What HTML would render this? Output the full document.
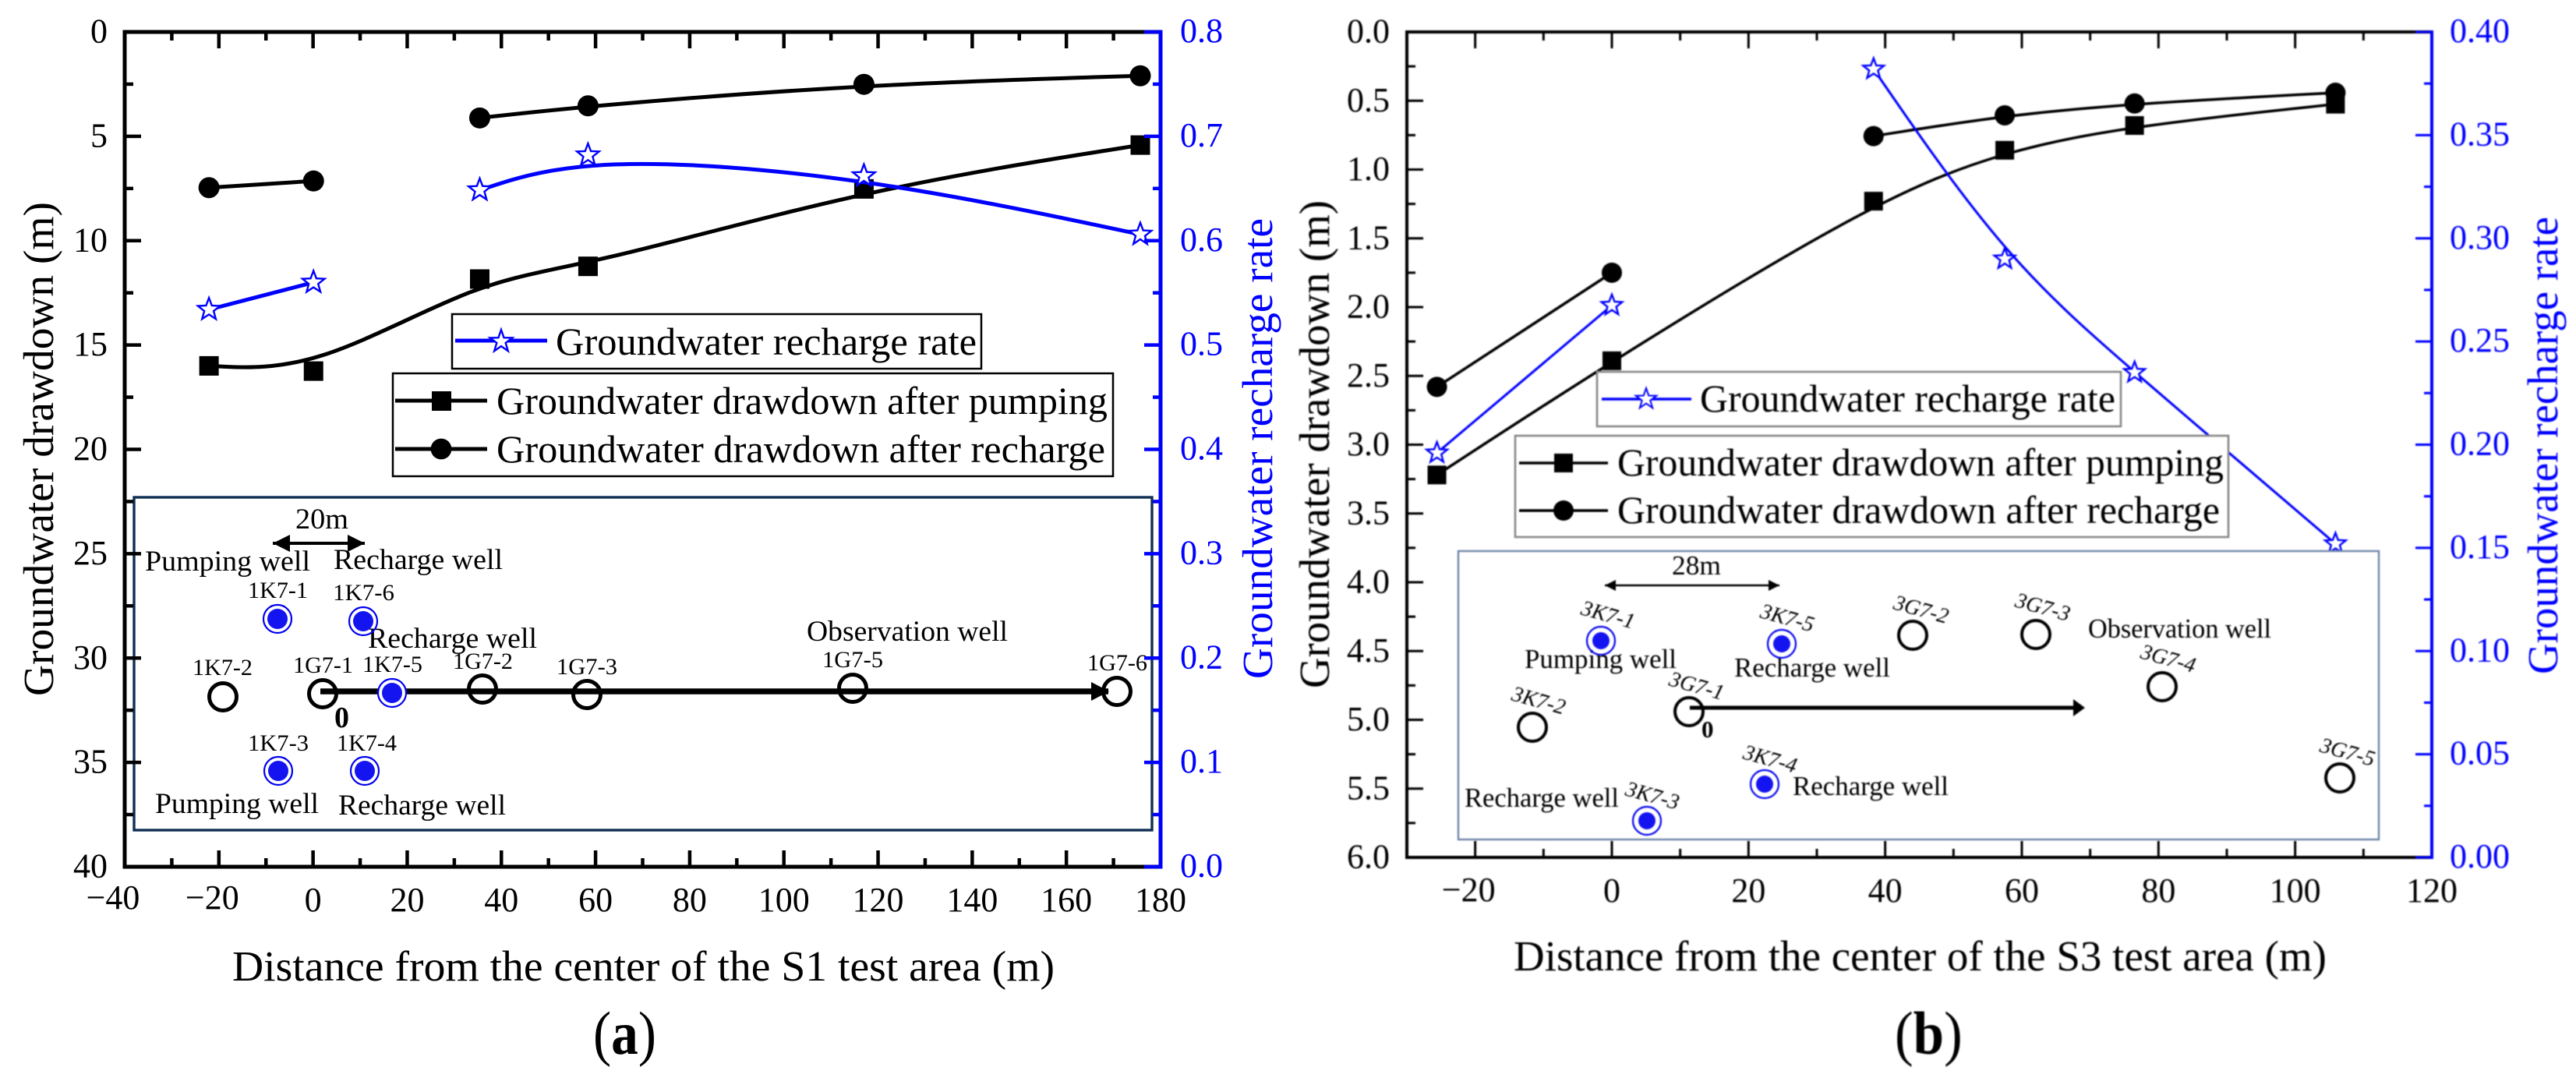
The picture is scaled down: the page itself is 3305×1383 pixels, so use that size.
<!DOCTYPE html>
<html lang="en">
<head>
<meta charset="utf-8">
<title>Groundwater drawdown and recharge rate</title>
<style>
html,body{margin:0;padding:0;background:#fff;width:3305px;height:1383px;overflow:hidden}
svg{display:block}
text{font-family:"Liberation Serif","DejaVu Serif",serif;fill:#000}
.blue{fill:#0000ff}
.lg{font-size:50px}
.ia{font-size:37.5px}
.ic{font-size:30px}
.ib{font-size:34.5px}
.ir{font-size:28px;font-style:italic}
.ttl{font-size:55.5px}
.well-b{fill:none;stroke:#0000f0;stroke-width:2.2}
.well-f{fill:#1414f0}
.obs{fill:none;stroke:#000;stroke-width:5}
.obsb{fill:none;stroke:#000;stroke-width:4}
</style>
</head>
<body>
<svg xmlns="http://www.w3.org/2000/svg" width="3305" height="1383" viewBox="0 0 3305 1383">
<defs>
<marker id="ah" markerUnits="userSpaceOnUse" markerWidth="24" markerHeight="26" refX="22" refY="13" orient="auto-start-reverse"><path d="M0 2 L22 13 L0 24 Z" fill="#000"/></marker>
</defs>
<rect x="0" y="0" width="3305" height="1383" fill="#fff"/>

<!-- PANEL A -->
<g id="panel-a">
<g id="a-series"></g>

<g>
<rect x="580" y="403" width="679" height="70" fill="#fff" stroke="#000" stroke-width="2.5"/>
<line x1="584" y1="437" x2="702" y2="437" stroke="#0000ff" stroke-width="5"/>
<polygon fill="#fff" stroke="#0000ff" stroke-width="2.4" points="643,423 646.5,433.2 657.3,433.4 648.7,439.9 651.8,450.3 643,444.1 634.2,450.3 637.3,439.9 628.7,433.4 639.5,433.2"/>
<text class="lg" x="713" y="455" textLength="540" lengthAdjust="spacingAndGlyphs">Groundwater recharge rate</text>
</g>
<g>
<rect x="504" y="479" width="924" height="132" fill="#fff" stroke="#000" stroke-width="2.5"/>
<line x1="507" y1="514" x2="625" y2="514" stroke="#000" stroke-width="5"/>
<rect x="554" y="502" width="25" height="25" fill="#000"/>
<text class="lg" x="637" y="531" textLength="784" lengthAdjust="spacingAndGlyphs">Groundwater drawdown after pumping</text>
<line x1="507" y1="576" x2="625" y2="576" stroke="#000" stroke-width="5"/>
<circle cx="566" cy="576" r="13.4" fill="#000"/>
<text class="lg" x="637" y="593" textLength="781" lengthAdjust="spacingAndGlyphs">Groundwater drawdown after recharge</text>
</g>

<g>
<rect x="172" y="638" width="1306" height="427" fill="#fff" stroke="#0f2f52" stroke-width="3.4"/>
<text class="ia" x="379" y="678" textLength="68" lengthAdjust="spacingAndGlyphs">20m</text>
<line x1="350" y1="697" x2="468" y2="697" stroke="#000" stroke-width="4" marker-start="url(#ah)" marker-end="url(#ah)"/>
<text class="ia" x="186" y="732" textLength="212" lengthAdjust="spacingAndGlyphs">Pumping well</text>
<text class="ia" x="428" y="730" textLength="217" lengthAdjust="spacingAndGlyphs">Recharge well</text>
<text class="ic" x="318" y="767" textLength="77" lengthAdjust="spacingAndGlyphs">1K7-1</text>
<text class="ic" x="427" y="770" textLength="79" lengthAdjust="spacingAndGlyphs">1K7-6</text>
<text class="ia" x="472" y="831" textLength="217" lengthAdjust="spacingAndGlyphs">Recharge well</text>
<text class="ic" x="247" y="866" textLength="77" lengthAdjust="spacingAndGlyphs">1K7-2</text>
<text class="ic" x="376" y="863" textLength="77" lengthAdjust="spacingAndGlyphs">1G7-1</text>
<text class="ic" x="465" y="862" textLength="77" lengthAdjust="spacingAndGlyphs">1K7-5</text>
<text class="ic" x="581" y="858" textLength="77" lengthAdjust="spacingAndGlyphs">1G7-2</text>
<text class="ic" x="714" y="865" textLength="78" lengthAdjust="spacingAndGlyphs">1G7-3</text>
<text class="ia" x="1035" y="822" textLength="258" lengthAdjust="spacingAndGlyphs">Observation well</text>
<text class="ic" x="1055" y="856" textLength="78" lengthAdjust="spacingAndGlyphs">1G7-5</text>
<text class="ic" x="1395" y="860" textLength="77" lengthAdjust="spacingAndGlyphs">1G7-6</text>
<text class="ic" x="318" y="963" textLength="78" lengthAdjust="spacingAndGlyphs">1K7-3</text>
<text class="ic" x="432" y="963" textLength="77" lengthAdjust="spacingAndGlyphs">1K7-4</text>
<text class="ia" x="199" y="1043" textLength="210" lengthAdjust="spacingAndGlyphs">Pumping well</text>
<text class="ia" x="434" y="1045" textLength="215" lengthAdjust="spacingAndGlyphs">Recharge well</text>
<text x="429" y="933" font-size="38" font-weight="bold">0</text>
<g><circle class="well-b" cx="356" cy="794" r="18"/><circle class="well-f" cx="356" cy="794" r="13"/></g>
<g><circle class="well-b" cx="466" cy="797" r="18"/><circle class="well-f" cx="466" cy="797" r="13"/></g>
<g><circle class="well-b" cx="357" cy="989" r="18"/><circle class="well-f" cx="357" cy="989" r="13"/></g>
<g><circle class="well-b" cx="468" cy="989" r="18"/><circle class="well-f" cx="468" cy="989" r="13"/></g>
<circle class="obs" cx="286" cy="894" r="17.5"/>
<circle class="obs" cx="414" cy="890" r="17.5"/>
<circle class="obs" cx="619" cy="884" r="17.5"/>
<circle class="obs" cx="753" cy="891" r="17.5"/>
<circle class="obs" cx="1094" cy="883" r="17.5"/>
<circle class="obs" cx="1433" cy="887" r="17.5"/>
<line x1="411" y1="887" x2="1422" y2="887" stroke="#000" stroke-width="7.5"/>
<path d="M1400 875 L1423 887 L1400 899 Z" fill="#000"/>
<g><circle cx="503" cy="889" r="18" fill="#fff" stroke="#0000f0" stroke-width="2.2"/><circle class="well-f" cx="503" cy="889" r="13"/></g>
</g>
<g id="a-axes"></g>

<text class="ttl" x="298" y="1258" textLength="1055" lengthAdjust="spacingAndGlyphs">Distance from the center of the S1 test area (m)</text>
<text class="ttl" transform="rotate(-90 68 893)" x="68" y="893" textLength="634" lengthAdjust="spacingAndGlyphs">Groundwater drawdown (m)</text>
<text class="ttl blue" transform="rotate(-90 1632 871)" x="1632" y="871" textLength="591" lengthAdjust="spacingAndGlyphs">Groundwater recharge rate</text>
<text transform="translate(761 1352) scale(0.89 1)" x="0" y="0" font-size="78">(<tspan font-weight="bold">a</tspan>)</text>
</g>

<!-- PANEL B -->
<g id="panel-b" style="filter:blur(0.8px)">
<g id="b-series"></g>

<g>
<rect x="2049" y="477" width="672" height="70" fill="#fff" stroke="#888" stroke-width="2.6"/>
<line x1="2055" y1="512" x2="2170" y2="512" stroke="#0000ff" stroke-width="3.5"/>
<polygon fill="#fff" stroke="#0000ff" stroke-width="2" points="2112,498 2115.3,507.5 2125.3,507.7 2117.3,513.8 2120.2,523.3 2112,517.6 2103.8,523.3 2106.7,513.8 2098.7,507.7 2108.7,507.5"/>
<text class="lg" x="2181" y="528" textLength="533" lengthAdjust="spacingAndGlyphs">Groundwater recharge rate</text>
</g>
<g>
<rect x="1944" y="559" width="915" height="130" fill="#fff" stroke="#888" stroke-width="2.6"/>
<line x1="1949" y1="594" x2="2063" y2="594" stroke="#000" stroke-width="3.5"/>
<rect x="1994" y="582" width="24" height="24" fill="#000"/>
<text class="lg" x="2075" y="610" textLength="778" lengthAdjust="spacingAndGlyphs">Groundwater drawdown after pumping</text>
<line x1="1949" y1="655" x2="2063" y2="655" stroke="#000" stroke-width="3.5"/>
<circle cx="2006" cy="655" r="13" fill="#000"/>
<text class="lg" x="2075" y="671" textLength="773" lengthAdjust="spacingAndGlyphs">Groundwater drawdown after recharge</text>
</g>

<g>
<rect x="1871" y="707" width="1181" height="370" fill="#fff" stroke="#6e86a8" stroke-width="2.4"/>
<text class="ib" x="2145" y="737" textLength="63" lengthAdjust="spacingAndGlyphs">28m</text>
<line x1="2059" y1="751" x2="2283" y2="751" stroke="#000" stroke-width="2.5"/>
<path d="M2059 751 L2073 744 L2073 758 Z M2283 751 L2269 744 L2269 758 Z" fill="#000"/>
<text class="ib" x="2679" y="818" textLength="235" lengthAdjust="spacingAndGlyphs">Observation well</text>
<text class="ib" x="1956" y="857" textLength="195" lengthAdjust="spacingAndGlyphs">Pumping well</text>
<text class="ib" x="2225" y="868" textLength="200" lengthAdjust="spacingAndGlyphs">Recharge well</text>
<text class="ib" x="2300" y="1020" textLength="200" lengthAdjust="spacingAndGlyphs">Recharge well</text>
<text class="ib" x="1879" y="1035" textLength="198" lengthAdjust="spacingAndGlyphs">Recharge well</text>
<text class="ir" transform="rotate(15.5 2027 788)" x="2027" y="788">3K7-1</text>
<text class="ir" transform="rotate(15.5 2257 792)" x="2257" y="792">3K7-5</text>
<text class="ir" transform="rotate(15.5 2428 781)" x="2428" y="781">3G7-2</text>
<text class="ir" transform="rotate(15.5 2584 778)" x="2584" y="778">3G7-3</text>
<text class="ir" transform="rotate(15.5 2745 844)" x="2745" y="844">3G7-4</text>
<text class="ir" transform="rotate(15.5 1938 898)" x="1938" y="898">3K7-2</text>
<text class="ir" transform="rotate(15.5 2140 879)" x="2140" y="879">3G7-1</text>
<text class="ir" transform="rotate(15.5 2235 973)" x="2235" y="973">3K7-4</text>
<text class="ir" transform="rotate(15.5 2084 1020)" x="2084" y="1020">3K7-3</text>
<text class="ir" transform="rotate(15.5 2975 964)" x="2975" y="964">3G7-5</text>
<text x="2183" y="946" font-size="31" font-weight="bold">0</text>
<g><circle class="well-b" cx="2054" cy="822" r="18"/><circle class="well-f" cx="2054" cy="822" r="11"/></g>
<g><circle class="well-b" cx="2286" cy="826" r="18"/><circle class="well-f" cx="2286" cy="826" r="11"/></g>
<g><circle class="well-b" cx="2264" cy="1006" r="18"/><circle class="well-f" cx="2264" cy="1006" r="11"/></g>
<g><circle class="well-b" cx="2113" cy="1053" r="18"/><circle class="well-f" cx="2113" cy="1053" r="11"/></g>
<circle class="obsb" cx="2454" cy="815" r="18"/>
<circle class="obsb" cx="2612" cy="814" r="18"/>
<circle class="obsb" cx="2774" cy="881" r="18"/>
<circle class="obsb" cx="1966" cy="933" r="18"/>
<circle class="obsb" cx="2167" cy="913" r="18"/>
<circle class="obsb" cx="3002" cy="998" r="18"/>
<line x1="2168" y1="908" x2="2664" y2="908" stroke="#000" stroke-width="5"/>
<path d="M2660 897 L2675 908 L2660 919 Z" fill="#000"/>
</g>
<g id="b-axes"></g>

<text class="ttl" x="1942" y="1245" textLength="1043" lengthAdjust="spacingAndGlyphs">Distance from the center of the S3 test area (m)</text>
<text class="ttl" transform="rotate(-90 1705 883)" x="1705" y="883" textLength="626" lengthAdjust="spacingAndGlyphs">Groundwater drawdown (m)</text>
<text class="ttl blue" transform="rotate(-90 3281 865)" x="3281" y="865" textLength="587" lengthAdjust="spacingAndGlyphs">Groundwater recharge rate</text>
<text transform="translate(2431 1352) scale(0.91 1)" x="0" y="0" font-size="78">(<tspan font-weight="bold">b</tspan>)</text>
</g>
</svg>

<script>
// Panel (a) data
const aDistance = [-22.1, 0.1, 35.4, 58.4, 117, 175.7];
const aPumping = [16.0, 16.25, 11.84, 11.23, 7.52, 5.42];
const aRecharge = [7.46, 7.14, 4.12, 3.54, 2.51, 2.1];
const aRate = [0.534, 0.56, 0.6485, 0.682, 0.662, 0.606];
const aXTicks = [-40, -20, 0, 20, 40, 60, 80, 100, 120, 140, 160, 180];
const aLeftTicks = [0, 5, 10, 15, 20, 25, 30, 35, 40];
const aLeftLabels = ['0', '5', '10', '15', '20', '25', '30', '35', '40'];
const aRightTicks = [0, 0.1, 0.2, 0.3, 0.4, 0.5, 0.6, 0.7, 0.8];
const aRightLabels = ['0.0', '0.1', '0.2', '0.3', '0.4', '0.5', '0.6', '0.7', '0.8'];

// Panel (b) data
const bDistance = [-25.6, 0, 38.3, 57.5, 76.5, 105.9];
const bPumping = [3.22, 2.39, 1.23, 0.86, 0.68, 0.525];
const bRecharge = [2.58, 1.75, 0.757, 0.606, 0.52, 0.442];
const bRate = [0.196, 0.2675, 0.382, 0.29, 0.235, 0.152];
const bXTicks = [-20, 0, 20, 40, 60, 80, 100, 120];
const bLeftTicks = [0, 0.5, 1, 1.5, 2, 2.5, 3, 3.5, 4, 4.5, 5, 5.5, 6];
const bLeftLabels = ['0.0', '0.5', '1.0', '1.5', '2.0', '2.5', '3.0', '3.5', '4.0', '4.5', '5.0', '5.5', '6.0'];
const bRightTicks = [0, 0.05, 0.1, 0.15, 0.2, 0.25, 0.3, 0.35, 0.4];
const bRightLabels = ['0.00', '0.05', '0.10', '0.15', '0.20', '0.25', '0.30', '0.35', '0.40'];

// Which points are joined into a continuous curve
const fullRun = [[0, 6]];
const splitRun = [[0, 2], [2, 6]];

const NS = 'http://www.w3.org/2000/svg';
function make(tag, attrs, parent) {
  const el = document.createElementNS(NS, tag);
  for (const k in attrs) el.setAttribute(k, attrs[k]);
  parent.appendChild(el);
  return el;
}

function linear(d0, d1, r0, r1) {
  return v => r0 + (v - d0) / (d1 - d0) * (r1 - r0);
}

// Clamped uniform cubic B-spline through control points (Origin-style)
function splinePath(pts) {
  if (pts.length < 3) return 'M' + pts.map(p => p[0] + ' ' + p[1]).join(' L');
  const first = pts[0], last = pts[pts.length - 1];
  const c = [first, first].concat(pts, [last, last]);
  let d = 'M' + first[0] + ' ' + first[1];
  for (let i = 1; i < c.length - 2; i++) {
    const p0 = c[i - 1], p1 = c[i], p2 = c[i + 1], p3 = c[i + 2];
    d += ' C' + (2 * p1[0] + p2[0]) / 3 + ' ' + (2 * p1[1] + p2[1]) / 3 +
      ' ' + (p1[0] + 2 * p2[0]) / 3 + ' ' + (p1[1] + 2 * p2[1]) / 3 +
      ' ' + (p1[0] + 4 * p2[0] + p3[0]) / 6 + ' ' + (p1[1] + 4 * p2[1] + p3[1]) / 6;
  }
  return d;
}

function starPoints(cx, cy, R) {
  const out = [];
  for (let i = 0; i < 10; i++) {
    const r = i % 2 ? R * 0.42 : R;
    const t = -Math.PI / 2 + i * Math.PI / 5;
    out.push((cx + r * Math.cos(t)).toFixed(1) + ',' + (cy + r * Math.sin(t)).toFixed(1));
  }
  return out.join(' ');
}

function drawSeries(parent, xs, ys, runs, xF, yF, style, label) {
  const group = make('g', {}, parent);
  
  
  runs.forEach(run => {
    const pts = [];
    for (let i = run[0]; i < run[1]; i++) pts.push([xF(xs[i]), yF(ys[i])]);
    const path = make('path', { d: splinePath(pts), fill: 'none', stroke: style.color, 'stroke-width': style.width }, group);
    
    
  });
  xs.forEach((xv, i) => {
    const cx = xF(xv), cy = yF(ys[i]);
    let m;
    if (style.marker === 'square') {
      m = make('rect', { x: cx - style.size / 2, y: cy - style.size / 2, width: style.size, height: style.size, fill: style.color }, group);
    } else if (style.marker === 'circle') {
      m = make('circle', { cx: cx, cy: cy, r: style.size / 2, fill: style.color }, group);
    } else {
      m = make('polygon', { points: starPoints(cx, cy, style.size / 2), fill: '#fff', stroke: style.color, 'stroke-width': 2.4 }, group);
    }
    
    
  });
}

function midpoints(t) {
  const out = [];
  for (let i = 0; i < t.length - 1; i++) out.push((t[i] + t[i + 1]) / 2);
  return out;
}

function drawAxes(parent, cfg) {
  const L = cfg.left, R = cfg.right, T = cfg.top, B = cfg.bottom, W = cfg.width, blue = '#0000ff';
  function seg(x1, y1, x2, y2, color, w, name) {
    const el = make('line', { x1: x1, y1: y1, x2: x2, y2: y2, stroke: color, 'stroke-width': w }, parent);
    
    
  }
  function label(x, y, str, anchor, cls, size, name) {
    const el = make('text', { x: x, y: y, 'text-anchor': anchor, 'font-size': size }, parent);
    if (cls) el.setAttribute('class', cls);
    el.textContent = str;
    
    
  }
  seg(L, T, R, T, '#000', W, 'top-axis');
  seg(L, B, R, B, '#000', W, 'bottom-axis');
  seg(L, T - W / 2, L, B + W / 2, '#000', W, 'left-axis');
  cfg.xTicks.forEach(v => {
    const x = cfg.xF(v);
    if (x > L && x < R) {
      seg(x, T, x, T + 21, '#000', cfg.tickW, 'x-major-tick-top');
      seg(x, B, x, B - 21, '#000', cfg.tickW, 'x-major-tick-bottom');
    }
    const str = (v < 0 ? '\u2212' : '') + Math.abs(v);
    const dx = v < -20 ? -15 : (v < 0 ? -8.5 : 0);
    label(x + dx, v < 0 ? cfg.xNegLabelY : cfg.xLabelY, str, 'middle', '', cfg.tickFont, 'x-tick-label');
  });
  midpoints(cfg.xTicks).forEach(v => {
    const x = cfg.xF(v);
    seg(x, T, x, T + 11, '#000', cfg.tickW, 'x-minor-tick-top');
    seg(x, B, x, B - 11, '#000', cfg.tickW, 'x-minor-tick-bottom');
  });
  cfg.leftTicks.forEach((v, i) => {
    const y = cfg.yL(v);
    seg(L, y, L + 21, y, '#000', cfg.tickW, 'y-left-major-tick');
    label(cfg.leftLabelX, y + 13.5, cfg.leftLabels[i], 'end', '', cfg.tickFont, 'y-left-tick-label');
  });
  midpoints(cfg.leftTicks).forEach(v => {
    const y = cfg.yL(v);
    seg(L, y, L + 11, y, '#000', cfg.tickW, 'y-left-minor-tick');
  });
  cfg.rightTicks.forEach((v, i) => {
    const y = cfg.yR(v);
    seg(R, y, R - 21, y, blue, cfg.tickW, 'y-right-major-tick');
    label(cfg.rightLabelX, y + 13, cfg.rightLabels[i], 'start', 'blue', cfg.tickFont, 'y-right-tick-label');
  });
  midpoints(cfg.rightTicks).forEach(v => {
    const y = cfg.yR(v);
    seg(R, y, R - 10, y, blue, cfg.tickW, 'y-right-minor-tick');
  });
  seg(R, T - W / 2, R, B + W / 2, blue, W, 'right-axis');
}

// Panel (a)
const aX = linear(-40, 180, 160, 1489);
const aYL = linear(0, 40, 41, 1112);
const aYR = linear(0, 0.8, 1112, 41);
const aS = document.getElementById('a-series');
drawSeries(aS, aDistance, aPumping, fullRun, aX, aYL, { color: '#000', width: 5, marker: 'square', size: 25 }, 'pumping-drawdown-a');
drawSeries(aS, aDistance, aRecharge, splitRun, aX, aYL, { color: '#000', width: 5, marker: 'circle', size: 27 }, 'recharge-drawdown-a');
drawSeries(aS, aDistance, aRate, splitRun, aX, aYR, { color: '#0000ff', width: 5, marker: 'star', size: 30 }, 'recharge-rate-a');
drawAxes(document.getElementById('a-axes'), {
  left: 160, right: 1489, top: 41, bottom: 1112, width: 5, tickW: 4.5, tickFont: 44,
  xF: aX, yL: aYL, yR: aYR,
  xTicks: aXTicks, leftTicks: aLeftTicks, leftLabels: aLeftLabels,
  rightTicks: aRightTicks, rightLabels: aRightLabels,
  xLabelY: 1169, xNegLabelY: 1166, leftLabelX: 138, rightLabelX: 1514
});

// Panel (b)
const bX = linear(-30, 120, 1805, 3120);
const bYL = linear(0, 6, 41, 1100);
const bYR = linear(0, 0.4, 1100, 41);
const bS = document.getElementById('b-series');
drawSeries(bS, bDistance, bPumping, fullRun, bX, bYL, { color: '#000', width: 3.5, marker: 'square', size: 24 }, 'pumping-drawdown-b');
drawSeries(bS, bDistance, bRecharge, splitRun, bX, bYL, { color: '#000', width: 3.5, marker: 'circle', size: 26 }, 'recharge-drawdown-b');
drawSeries(bS, bDistance, bRate, splitRun, bX, bYR, { color: '#0000ff', width: 3, marker: 'star', size: 28 }, 'recharge-rate-b');
drawAxes(document.getElementById('b-axes'), {
  left: 1805, right: 3120, top: 41, bottom: 1100, width: 4, tickW: 3, tickFont: 44,
  xF: bX, yL: bYL, yR: bYR,
  xTicks: bXTicks, leftTicks: bLeftTicks, leftLabels: bLeftLabels,
  rightTicks: bRightTicks, rightLabels: bRightLabels,
  xLabelY: 1157, xNegLabelY: 1156, leftLabelX: 1783, rightLabelX: 3143
});
</script>
</body>
</html>
